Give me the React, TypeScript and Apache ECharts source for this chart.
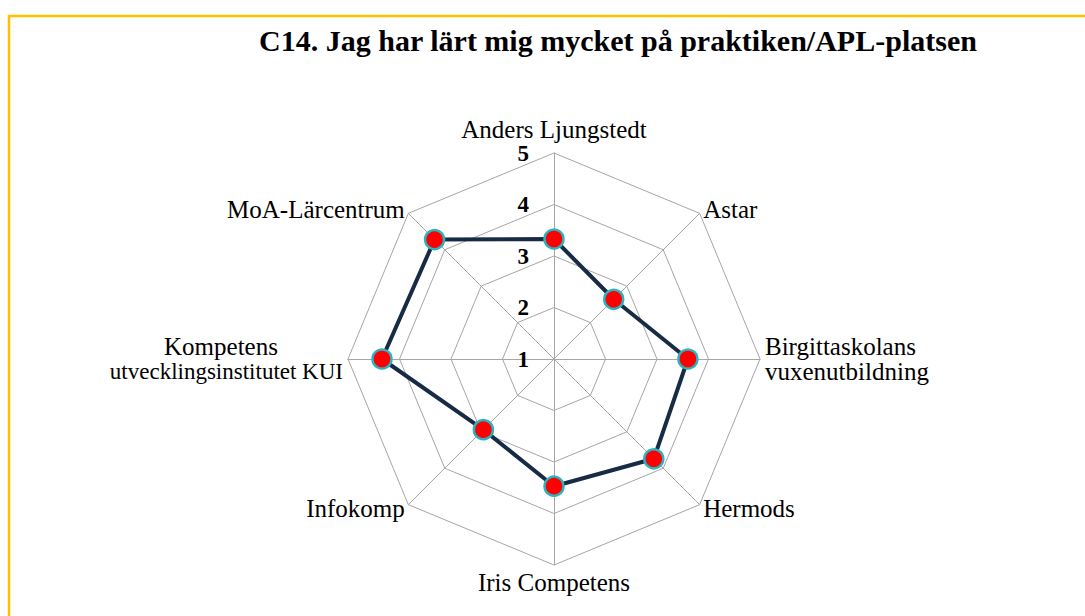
import React, { useEffect, useRef } from "react";
import * as echarts from "echarts";

const title = "C14. Jag har lärt mig mycket på praktiken/APL-platsen";
const categories = [
  "Anders Ljungstedt",
  "Astar",
  "Birgittaskolans\nvuxenutbildning",
  "Hermods",
  "Iris Competens",
  "Infokomp",
  "Kompetens\nutvecklingsinstitutet KUI",
  "MoA-Lärcentrum",
];
const values = [3.33, 2.64, 3.6, 3.74, 3.47, 2.94, 4.34, 4.28];
const axisMin = 1;
const axisMax = 5;

export default function App() {
  const ref = useRef<HTMLDivElement>(null);
  useEffect(() => {
    if (!ref.current) return;
    const chart = echarts.init(ref.current, null, { renderer: "svg" });
    const font = "'Liberation Serif', 'Times New Roman', serif";
    // ECharts radar runs counter-clockwise; reorder so categories run clockwise
    const order = [0, ...categories.map((_, i) => i).slice(1).reverse()];
    const cats = order.map((i) => categories[i]);
    const vals = order.map((i) => values[i]);
    chart.setOption({
      animation: false,
      backgroundColor: "#ffffff",
      title: {
        text: title,
        left: 613,
        top: 20,
        textAlign: "center",
        textStyle: { fontFamily: font, fontSize: 30, fontWeight: "bold", color: "#000" },
      },
      graphic: [
        {
          type: "rect",
          shape: { x: 9, y: 16, width: 1100, height: 620 },
          style: { fill: "none", stroke: "#FFC000", lineWidth: 2.5 },
          silent: true,
        },
      ],
      radar: {
        center: [554, 359],
        radius: 206,
        startAngle: 90,
        shape: "polygon",
        splitNumber: 4,
        nameGap: 5,
        axisName: {
          color: "#000",
          fontFamily: font,
          fontSize: 25,
          lineHeight: 25,
          formatter: (name: string) => {
            const lines = name.split("\n");
            if (lines.length > 1 && lines[1].length > 18) {
              return `{a|${lines[0]}}\n{b|${lines[1]}}`;
            }
            return name;
          },
          rich: {
            a: { width: 244, align: "center", fontFamily: font, fontSize: 25, color: "#000", lineHeight: 25 },
            b: { fontFamily: font, fontSize: 23, color: "#000", lineHeight: 25 },
          },
        },
        axisLine: { lineStyle: { color: "#A6A6A6", width: 1 } },
        splitLine: { lineStyle: { color: "#A6A6A6", width: 1 } },
        splitArea: { show: false },
        axisLabel: { show: false },
        indicator: cats.map((c, i) => ({
          name: c,
          min: axisMin,
          max: axisMax,
          ...(i === 0
            ? {
                axisLabel: {
                  show: true,
                  fontFamily: font,
                  fontSize: 23,
                  fontWeight: "bold",
                  color: "#000",
                  margin: 25,
                },
              }
            : {}),
        })),
      },
      series: [
        {
          type: "radar",
          symbol: "circle",
          symbolSize: 19,
          lineStyle: { color: "#172B45", width: 4 },
          itemStyle: { color: "#FF0000", borderColor: "#2BB3C0", borderWidth: 2.5 },
          data: [{ value: vals }],
        },
      ],
    });
    return () => chart.dispose();
  }, []);
  return (
    <div
      ref={ref}
      style={{ position: "fixed", left: 0, top: 0, width: 1085, height: 616 }}
    />
  );
}
